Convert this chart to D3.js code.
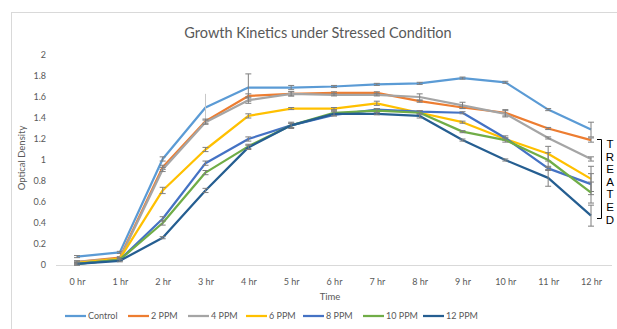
<!DOCTYPE html>
<html><head><meta charset="utf-8">
<script src="https://cdn.jsdelivr.net/npm/d3@7"></script>
<style>body{margin:0;background:#fff}svg{display:block}</style>
</head><body>
<svg id="c" width="617" height="329"></svg>
<script>
const categories = ["0 hr","1 hr","2 hr","3 hr","4 hr","5 hr","6 hr","7 hr","8 hr","9 hr","10 hr","11 hr","12 hr"];
const seriesNames = ["Control","2 PPM","4 PPM","6 PPM","8 PPM","10 PPM","12 PPM"];
const control = [0.08,0.12,1.01,1.50,1.69,1.69,1.70,1.72,1.73,1.78,1.74,1.48,1.29];
const ppm2    = [0.03,0.07,0.93,1.37,1.61,1.63,1.64,1.64,1.56,1.50,1.45,1.30,1.19];
const ppm4    = [0.03,0.06,0.91,1.36,1.57,1.63,1.62,1.62,1.60,1.52,1.44,1.21,1.01];
const ppm6    = [0.02,0.06,0.71,1.10,1.42,1.49,1.49,1.54,1.45,1.36,1.20,1.06,0.82];
const ppm8    = [0.01,0.05,0.44,0.97,1.20,1.33,1.43,1.48,1.46,1.45,1.21,0.92,0.77];
const ppm10   = [0.01,0.05,0.40,0.88,1.13,1.33,1.45,1.47,1.45,1.27,1.19,1.00,0.69];
const ppm12   = [0.01,0.04,0.26,0.71,1.12,1.33,1.44,1.44,1.42,1.19,1.00,0.83,0.47];
const errControl = [0.01,0.01,0.02,0.13,0.13,0.02,0.01,0.01,0.01,0.01,0.01,0.01,0.07];
const err2  = [0.01,0.01,0.02,0.02,0.02,0.02,0.01,0.01,0.01,0.01,0.03,0.01,0.02];
const err4  = [0.01,0.01,0.02,0.02,0.03,0.02,0.01,0.01,0.03,0.03,0.03,0.01,0.02];
const err6  = [0.01,0.01,0.03,0.02,0.02,0.01,0.01,0.02,0.01,0.01,0.01,0.07,0.12];
const err8  = [0.01,0.01,0.02,0.02,0.02,0.02,0.01,0.01,0.01,0.01,0.02,0.02,0.10];
const err10 = [0.01,0.01,0.02,0.02,0.02,0.02,0.02,0.02,0.02,0.01,0.02,0.07,0.10];
const err12 = [0.01,0.01,0.01,0.02,0.02,0.03,0.02,0.01,0.02,0.01,0.01,0.08,0.10];
const yTicks = [0,0.2,0.4,0.6,0.8,1,1.2,1.4,1.6,1.8,2];
const colors = ["#5B9BD5","#ED7D31","#A5A5A5","#FFC000","#4472C4","#70AD47","#255E91"];
const treatedLetters = ["T","R","E","A","T","E","D"];

const seriesVals = [control,ppm2,ppm4,ppm6,ppm8,ppm10,ppm12];
const seriesErr = [errControl,err2,err4,err6,err8,err10,err12];

const svg = d3.select("#c");
const textCol = "#595959";
svg.append("rect").attr("x",11.5).attr("y",12.5).attr("width",700).attr("height",400)
  .attr("fill","none").attr("stroke","#d9d9d9");

const x = d3.scalePoint().domain(categories).range([77,591]);
const y = d3.scaleLinear().domain([0,2]).range([265,55]);

svg.append("text").attr("x",318).attr("y",38).attr("text-anchor","middle")
  .attr("font-family","Lato").attr("font-size",14.5).attr("fill",textCol)
  .text("Growth Kinetics under Stressed Condition");

// baseline
svg.append("line").attr("x1",56).attr("x2",612).attr("y1",y(0)+0.5).attr("y2",y(0)+0.5)
  .attr("stroke","#d9d9d9").attr("stroke-width",1);

const yAxis = svg.append("g").attr("transform","translate(48,0)")
  .call(d3.axisLeft(y).tickValues(yTicks).tickSize(0).tickFormat(d=>String(d)));
yAxis.select(".domain").remove();
yAxis.selectAll("text").attr("font-family","Lato").attr("font-size",9).attr("fill",textCol).attr("dx","0").attr("x",-2);

const xAxis = svg.append("g").attr("transform","translate(0,276)")
  .call(d3.axisBottom(x).tickSize(0));
xAxis.select(".domain").remove();
xAxis.selectAll("text").attr("font-family","Lato").attr("font-size",9).attr("fill",textCol).attr("dy","0.71em").attr("y",3);

svg.append("text").attr("x",330).attr("y",300).attr("text-anchor","middle")
  .attr("font-family","Lato").attr("font-size",9.5).attr("fill",textCol).text("Time");
svg.append("text").attr("transform","translate(25,158) rotate(-90)").attr("text-anchor","middle")
  .attr("font-family","Lato").attr("font-size",9.5).attr("fill",textCol).text("Optical Density");

const line = d3.line().x((d,i)=>x(categories[i])).y(d=>y(d));
seriesVals.forEach((vals,s)=>{
  svg.append("path").datum(vals).attr("d",line).attr("fill","none")
    .attr("stroke",colors[s]).attr("stroke-width",2.25).attr("stroke-linejoin","round");
  const g = svg.append("g");
  vals.forEach((v,i)=>{
    const e = seriesErr[s][i];
    const cx = x(categories[i]);
    const stroke = (s===0 && i===3) ? "#c8c8c8" : "#7f7f7f";
    g.append("line").attr("x1",cx).attr("x2",cx).attr("y1",y(v+e)).attr("y2",y(v-e)).attr("stroke",stroke).attr("stroke-width",1);
    if (!(s===0 && i===3)) {
      [v+e,v-e].forEach(t=>g.append("line").attr("x1",cx-3).attr("x2",cx+3).attr("y1",y(t)).attr("y2",y(t)).attr("stroke",stroke).attr("stroke-width",1));
    }
  });
});

// legend
const legX = [65,128,188,246,303,363,423];
seriesNames.forEach((n,i)=>{
  svg.append("line").attr("x1",legX[i]).attr("x2",legX[i]+21).attr("y1",316).attr("y2",316)
    .attr("stroke",colors[i]).attr("stroke-width",2.25);
  svg.append("text").attr("x",legX[i]+23).attr("y",319).attr("font-family","Lato").attr("font-size",9)
    .attr("fill",textCol).text(n);
});

// TREATED bracket
svg.append("path").attr("d","M597,139.5 H601.5 V218.5 H597").attr("fill","none").attr("stroke","#000").attr("stroke-width",1);
treatedLetters.forEach((l,i)=>{
  svg.append("text").attr("x",610).attr("y",148+i*12.6).attr("text-anchor","middle")
    .attr("font-family","Liberation Sans").attr("font-size",11.5).attr("fill","#000").text(l);
});
</script>
</body></html>
